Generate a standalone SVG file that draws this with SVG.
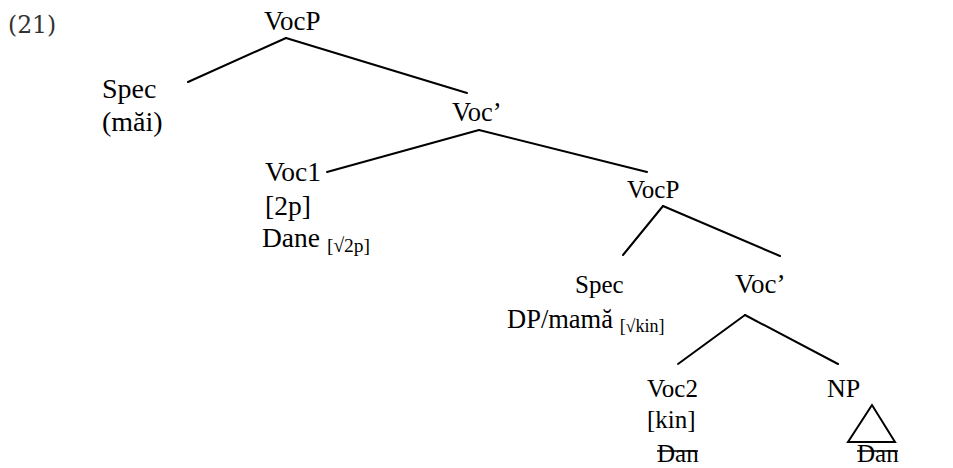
<svg xmlns="http://www.w3.org/2000/svg" width="953" height="468" viewBox="0 0 953 468">
  <style>
    text { font-family: "Liberation Serif", "Times New Roman", serif; fill: #000; }
    .sub { font-size: 18px; }
    .num { font-family: "DejaVu Serif", "Liberation Serif", serif; font-size: 23.5px; fill: #333; }
    .edge { stroke: #000; stroke-width: 2; fill: none; stroke-linecap: round; }
    .strike { stroke: #000; stroke-width: 1.6; }
  </style>
  <rect width="953" height="468" fill="#fff"/>

  <text class="num" x="8" y="33">(21)</text>

  <g id="connectors">
    <line class="edge" x1="286" y1="38" x2="188" y2="82"/>
    <line class="edge" x1="286" y1="38" x2="467" y2="93"/>
    <line class="edge" x1="479" y1="130" x2="327" y2="172"/>
    <line class="edge" x1="479" y1="130" x2="647" y2="172"/>
    <line class="edge" x1="663" y1="206" x2="623" y2="255"/>
    <line class="edge" x1="663" y1="206" x2="780" y2="256"/>
    <line class="edge" x1="745" y1="315" x2="678" y2="364"/>
    <line class="edge" x1="745" y1="315" x2="838" y2="364"/>
    <polygon class="edge" points="872,405 848,442 895,442"/>
  </g>

  <g id="vocp-root"><text x="264" y="30" font-size="27">VocP</text></g>
  <g id="spec-1" font-size="28">
    <text x="102" y="98">Spec</text>
    <text x="102" y="131">(măi)</text>
  </g>
  <g id="vocbar-1"><text x="452" y="121" font-size="26.5">Voc’</text></g>
  <g id="voc1" font-size="27.5">
    <text x="265" y="181">Voc1</text>
    <text x="265" y="215">[2p]</text>
    <text x="262" y="247">Dane <tspan class="sub" dy="5" style="font-size:19.5px">[√2p]</tspan></text>
  </g>
  <g id="vocp-2"><text x="627" y="198" font-size="25">VocP</text></g>
  <g id="spec-2">
    <text x="575" y="293" font-size="25">Spec</text>
    <text x="507" y="328" font-size="26.5">DP/mamă <tspan class="sub" dy="4">[√kin]</tspan></text>
  </g>
  <g id="vocbar-2"><text x="735" y="293" font-size="27">Voc’</text></g>
  <g id="voc2" font-size="25">
    <text x="647" y="397">Voc2</text>
    <text x="647" y="428">[kin]</text>
    <text x="657" y="462">Dan</text>
    <line class="strike" x1="657" y1="451" x2="698" y2="451"/>
  </g>
  <g id="np" font-size="25">
    <text x="827" y="397" font-size="26">NP</text>
    <text x="857" y="462">Dan</text>
    <line class="strike" x1="857" y1="451" x2="898" y2="451"/>
  </g>
</svg>
